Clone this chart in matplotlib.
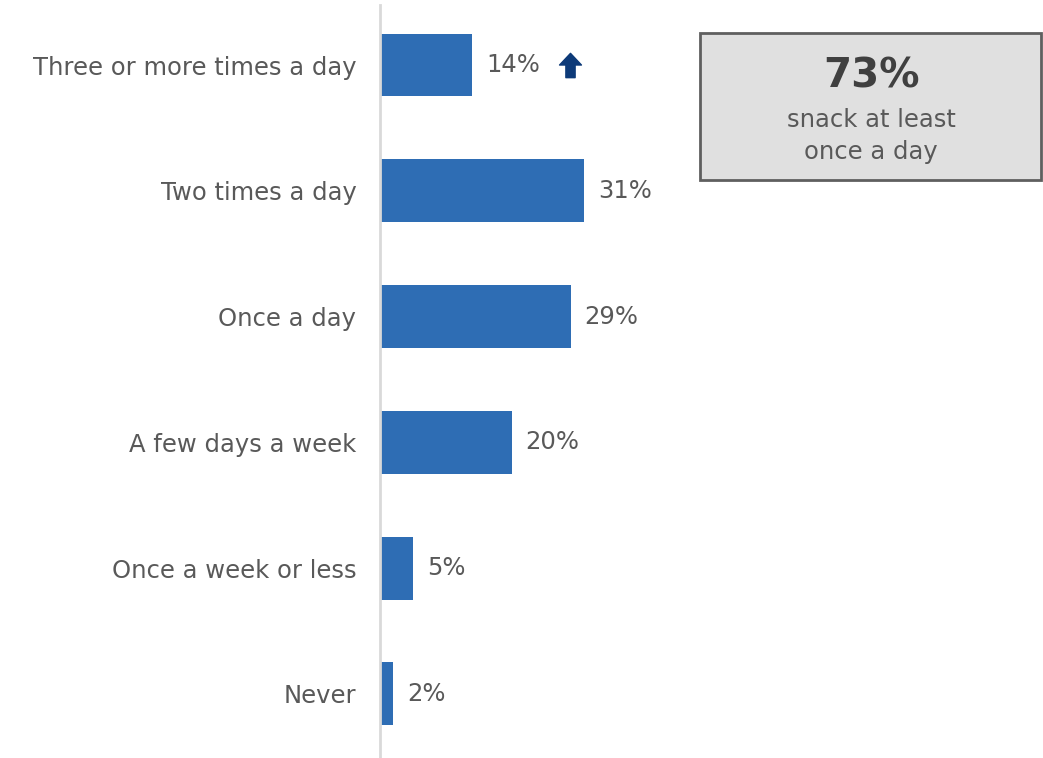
import matplotlib.pyplot as plt
from matplotlib.path import Path
from matplotlib.transforms import ScaledTranslation

# Частота перекусов
categories = ['Three or more times a day', 'Two times a day', 'Once a day',
              'A few days a week', 'Once a week or less', 'Never']
values = [14, 31, 29, 20, 5, 2]
labels = ['14%', '31%', '29%', '20%', '5%', '2%']
total_daily = '73%'

plt.rcParams['font.family'] = ['DejaVu Sans']
text_color = '#595959'
bar_color = '#2e6db4'

fig = plt.figure(figsize=(10.43, 7.58), dpi=100)
ax = fig.add_axes([380 / 1043, 0, 663 / 1043, 0.993])

y = range(len(categories))
ax.barh(y, values, height=0.5, color=bar_color, zorder=2)
ax.set_xlim(0, 100.8)
ax.set_ylim(5.51, -0.475)

ax.set_yticks(list(y))
ax.set_yticklabels(categories, fontsize=17.5, color=text_color)
ax.tick_params(axis='y', length=0, pad=17)
ax.tick_params(axis='x', bottom=False, labelbottom=False)
for side in ['top', 'right', 'bottom']:
    ax.spines[side].set_visible(False)
ax.spines['left'].set_color('#d9d9d9')
ax.spines['left'].set_linewidth(2)
ax.spines['left'].set_zorder(3)

# Подписи значений
for i, (v, lab) in enumerate(zip(values, labels)):
    ax.annotate(lab, xy=(v, i), xytext=(10, 0), textcoords='offset points',
                va='center', ha='left', fontsize=17.5, color=text_color)

# Стрелка роста справа от подписи 14%
arrow = Path([(-0.45, 0.02), (0, 0.5), (0.45, 0.02), (0.19, 0.02),
              (0.19, -0.5), (-0.19, -0.5), (-0.19, 0.02), (-0.45, 0.02)],
             [Path.MOVETO] + [Path.LINETO] * 6 + [Path.CLOSEPOLY])
shift = ax.transData + ScaledTranslation(98 / 100, 0, fig.dpi_scale_trans)
ax.plot([values[0]], [0], marker=arrow, markersize=17.5, color='#0d3a78',
        linestyle='none', transform=shift, clip_on=False)

# Блок с итогом
box = plt.Rectangle((700 / 1043, 1 - 180 / 758), 341 / 1043, 147 / 758,
                    transform=fig.transFigure, facecolor='#e0e0e0',
                    edgecolor='#5f5f5f', linewidth=2)
fig.patches.append(box)
fig.text(871 / 1043, 1 - 77 / 758, total_daily, ha='center', va='center',
         fontsize=29, fontweight='bold', color='#404040')
fig.text(871 / 1043, 1 - 136 / 758, 'snack at least\nonce a day', ha='center',
         va='center', fontsize=17.5, color=text_color, linespacing=1.4)

fig.savefig('out.png', dpi=100)
